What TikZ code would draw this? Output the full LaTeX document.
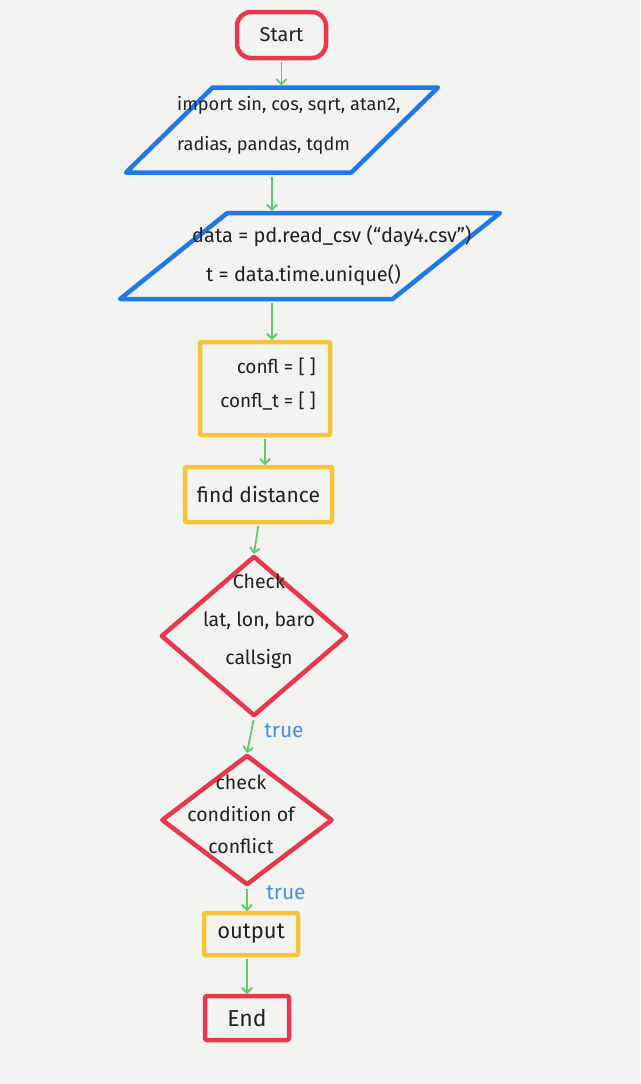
\documentclass[tikz,border=0pt]{standalone}
\usepackage{fontspec}
\setmainfont{Fira Sans}
\usetikzlibrary{shapes.geometric,arrows.meta}
\definecolor{paper}{RGB}{243,243,241}
\definecolor{hred}{RGB}{232,56,76}
\definecolor{hblue}{RGB}{30,122,232}
\definecolor{hyellow}{RGB}{246,196,56}
\definecolor{hgreen}{RGB}{96,204,104}
\definecolor{tblue}{RGB}{74,144,226}
\definecolor{ink}{RGB}{34,34,34}
\begin{document}
\begin{tikzpicture}[x=1pt,y=-1pt,
  shapebase/.style={line width=4.5pt, inner sep=0pt, outer sep=2pt, line join=round, text=ink},
  startbox/.style={shapebase, draw=hred, rounded corners=14pt, minimum width=89pt, minimum height=46pt, font=\fontsize{20}{24}\selectfont},
  endbox/.style={shapebase, draw=hred, rounded corners=2pt, font=\fontsize{23}{27}\selectfont},
  procbox/.style={shapebase, draw=hyellow, rounded corners=1pt},
  iobox/.style={shapebase, draw=hblue, trapezium, trapezium stretches=true, inner sep=2pt},
  decbox/.style={shapebase, draw=hred, diamond, inner sep=2pt},
  txt/.style={inner sep=0pt, text=ink},
  truelbl/.style={inner sep=0pt, text=tblue, font=\fontsize{21}{24}\selectfont},
  arr/.style={draw=hgreen, line width=1.8pt, shorten <=2pt, -{Straight Barb[length=5pt,width=10pt]}}
]
\fill[paper] (0,0) rectangle (640,1084);
\useasboundingbox (0,0) rectangle (640,1084);

% shapes
\node[startbox] (start) at (281.5,35) {Start};

\node[iobox, minimum width=312pt, minimum height=85pt,
      trapezium left angle=58, trapezium right angle=122] (p1) at (282,130) {};
\node[txt, font=\fontsize{18.2}{40}\selectfont, align=left, anchor=west] (p1t) at (177,125)
  {import sin, cos, sqrt, atan2,\\radias, pandas, tqdm};

\node[iobox, minimum width=380pt, minimum height=86pt,
      trapezium left angle=57, trapezium right angle=123] (p2) at (310,256) {};
\node[txt, font=\fontsize{20}{39}\selectfont, align=left, anchor=west] (p2t) at (192,256)
  {data = pd.read\_csv (“day4.csv”)\\\hspace*{14pt}t = data.time.unique()};

\node[procbox, minimum width=130pt, minimum height=93pt] (confl) at (265,388.5) {};
\node[txt, font=\fontsize{19}{34}\selectfont, align=right, anchor=east] (conflt) at (316,384)
  {confl = [ ]\\confl\_t = [ ]};

\node[procbox, minimum width=147pt, minimum height=55pt, font=\fontsize{21}{25}\selectfont] (find) at (258.5,494.5) {find distance};

\node[decbox, minimum width=186pt, minimum height=160pt] (d1) at (254,636) {};
\node[txt, font=\fontsize{19.5}{38}\selectfont, align=center] (d1t) at (259,621)
  {Check\\lat, lon, baro\\callsign};

\node[decbox, minimum width=171pt, minimum height=130pt] (d2) at (247,820) {};
\node[txt, font=\fontsize{19.5}{32}\selectfont, align=center] (d2t) at (241,814)
  {check\\condition of\\conflict};

\node[procbox, minimum width=94pt, minimum height=42pt, font=\fontsize{22}{26}\selectfont] (out) at (251,934) {output};

\node[endbox, minimum width=84pt, minimum height=44pt] (end) at (247,1018) {End};

% labels
\node[truelbl] (t1) at (284,731) {true};
\node[truelbl] (t2) at (286,893) {true};

% connectors
\coordinate (col) at (272,0);
\draw[arr] (start.south) -- (start.south |- p1.north);
\draw[arr] (p1.south -| col) -- (p2.north -| col);
\draw[arr] (p2.south -| col) -- (confl.north -| col);
\draw[arr] (confl.south) -- (confl.south |- find.north);
\draw[arr] (find.south) -- (d1.north);
\draw[arr] (d1.south) -- (d2.north);
\draw[arr] (d2.south) -- (d2.south |- out.north);
\draw[arr] (end.north |- out.south) -- (end.north);
\end{tikzpicture}
\end{document}
